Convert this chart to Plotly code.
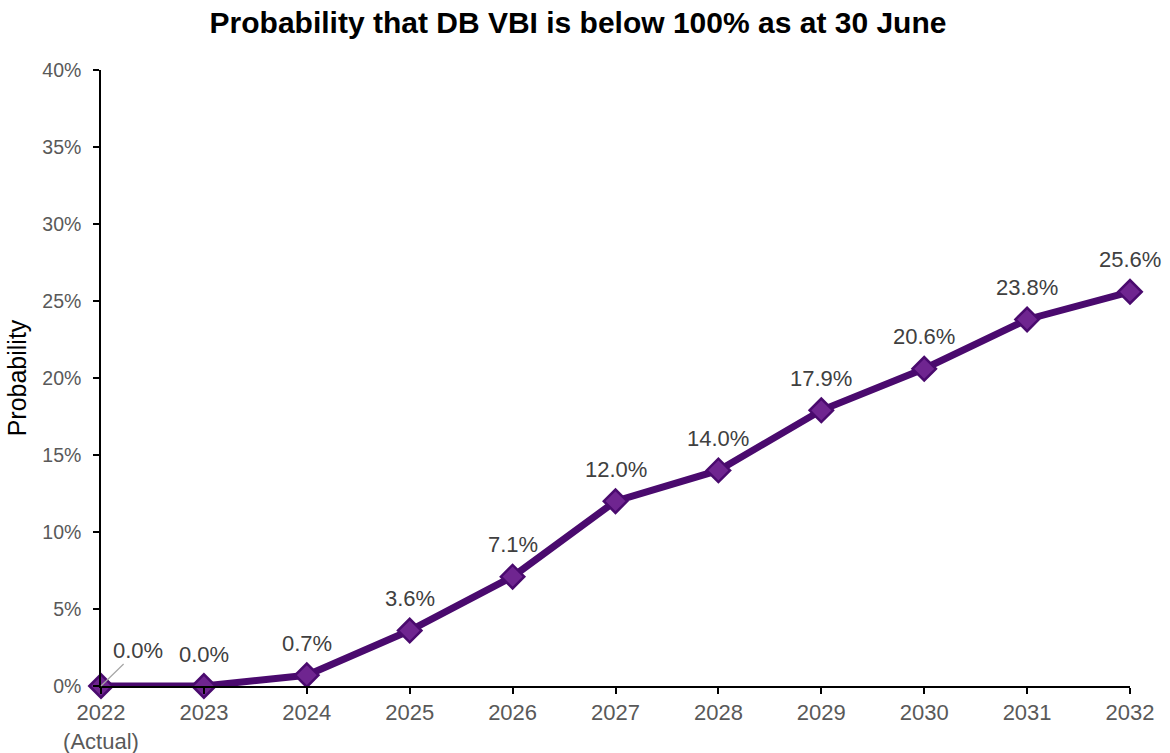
import plotly.graph_objects as go

years = ["2022", "2023", "2024", "2025", "2026", "2027", "2028", "2029", "2030", "2031", "2032"]
tick_text = ["2022<br>(Actual)", "2023", "2024", "2025", "2026", "2027", "2028", "2029", "2030", "2031", "2032"]
probability = [0.0, 0.0, 0.7, 3.6, 7.1, 12.0, 14.0, 17.9, 20.6, 23.8, 25.6]
y_ticks = [0, 5, 10, 15, 20, 25, 30, 35, 40]

LINE = "#4a0a6e"
FILL = "#6f2590"
FONT = "Liberation Sans, Arial, sans-serif"

fig = go.Figure()
fig.add_trace(go.Scatter(
    x=list(range(len(years))), y=probability, mode="lines+markers",
    line=dict(color=LINE, width=7),
    marker=dict(symbol="diamond", size=18, color=FILL, line=dict(color=LINE, width=2.5)),
    cliponaxis=False, showlegend=False, hoverinfo="skip",
))

annotations = []
for i, v in enumerate(probability):
    if i == 0:
        annotations.append(dict(
            x=i, y=v, text=f"{v:.1f}%", showarrow=True, arrowhead=0, arrowwidth=1.2,
            arrowcolor="#a6a6a6", ax=37, ay=-36, xanchor="center", yanchor="middle",
            font=dict(family=FONT, size=22, color="#404040"),
        ))
    else:
        annotations.append(dict(
            x=i, y=v, text=f"{v:.1f}%", showarrow=False, yshift=32,
            xanchor="center", yanchor="middle",
            font=dict(family=FONT, size=22, color="#404040"),
        ))

fig.update_layout(
    width=1170, height=753,
    margin=dict(l=101, r=40, t=70, b=67),
    paper_bgcolor="white", plot_bgcolor="white",
    title=dict(text="<b>Probability that DB VBI is below 100% as at 30 June</b>",
               x=578 / 1170, xanchor="center", y=1 - 22 / 753, yanchor="middle",
               font=dict(family=FONT, size=30, color="black")),
    xaxis=dict(
        tickmode="array", tickvals=list(range(len(years))), ticktext=tick_text,
        range=[0, len(years) - 1], showgrid=False, zeroline=False, automargin=False,
        showline=True, linecolor="black", linewidth=1.5,
        ticks="outside", ticklen=6, tickcolor="black", tickwidth=1.5,
        tickfont=dict(family=FONT, size=22, color="#595959"),
    ),
    yaxis=dict(
        tickmode="array", tickvals=y_ticks, ticktext=[f"{t}%" for t in y_ticks],
        range=[0, 40], showgrid=False, zeroline=False, automargin=False,
        showline=True, linecolor="black", linewidth=1.5,
        ticks="outside", ticklen=6, tickcolor="black", tickwidth=1.5,
        ticklabelstandoff=8,
        tickfont=dict(family=FONT, size=19.5, color="#595959"),
        title=dict(text="Probability", font=dict(family=FONT, size=25, color="black"), standoff=9),
    ),
    annotations=annotations,
)

fig.write_html("out.html")
